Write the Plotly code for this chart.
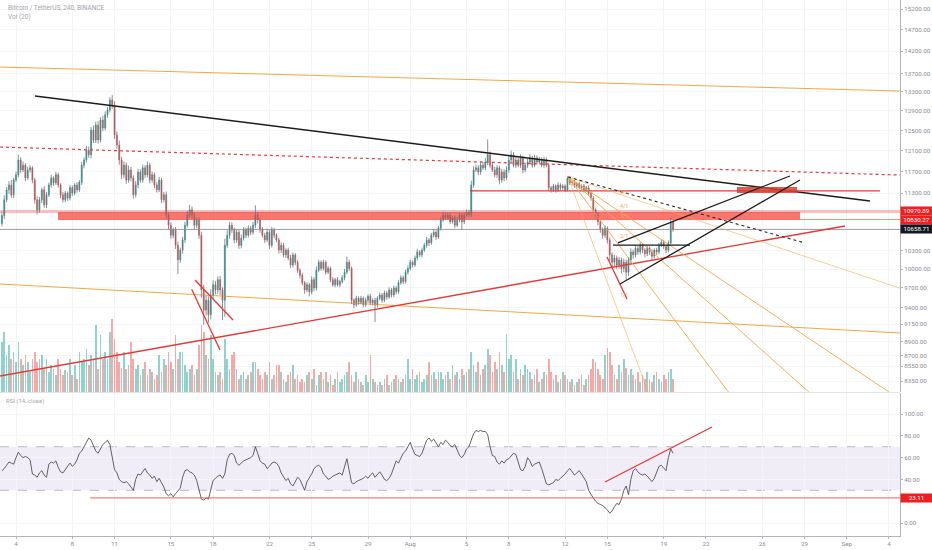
import math
import pandas as pd
import plotly.graph_objects as go

# ---------------- data ----------------
START = "2019-07-03 00:00"          # first 4h candle
first_open = 10760

closes = [
    10900, 11180, 11360, 11450, 11270, 11540, 11640, 11920, 11730, 11820,
    11580, 11730, 11770, 11540, 11180, 11000, 11180, 11360, 11090, 11270,
    11450, 11580, 11490, 11640, 11450, 11270, 11180, 11300, 11210, 11400,
    11300, 11450, 11360, 11500, 11820, 11920, 12110, 12020, 12510, 12310,
    12610, 12310, 12710, 12550, 12820, 12920, 13130, 13020, 12410, 12210,
    11920, 11640, 11820, 11540, 11730, 11580, 11270, 11450, 11690, 11540,
    11770, 11640, 11820, 11540, 11640, 11450, 11360, 11540, 11180, 11270,
    10910, 10730, 10560, 10650, 10390, 10150, 10310, 10480, 10730, 10910,
    11000, 10910, 10730, 10820, 10560, 9670, 9360, 9510, 9290, 9590,
    9750, 9670, 9830, 9670, 9510, 10390, 10560, 10730, 10650, 10480,
    10610, 10390, 10510, 10650, 10560, 10680, 10610, 10730, 10910, 10820,
    10650, 10560, 10480, 10610, 10390, 10650, 10560, 10480, 10310, 10390,
    10230, 10310, 10180, 10065, 10230, 10110, 9980, 9900, 9780, 9670,
    9750, 9640, 9830, 9700, 9980, 10110, 10010, 10110, 9950, 10010,
    9830, 9750, 9830, 9750, 9800, 9860, 9950, 10110, 10010, 9510,
    9440, 9540, 9480, 9540, 9440, 9510, 9570, 9470, 9510, 9440,
    9540, 9590, 9510, 9620, 9560, 9670, 9590, 9700, 9640, 9780,
    9860, 9800, 9950, 10010, 10110, 10065, 10180, 10280, 10230, 10310,
    10390, 10480, 10430, 10560, 10610, 10530, 10680, 10820, 10910, 10860,
    10910, 10790, 10860, 10730, 10820, 10910, 10790, 10910, 10960, 10910,
    11450, 11730, 11770, 11690, 11820, 11770, 11880, 12020, 11820, 11730,
    11640, 11770, 11540, 11690, 11580, 11730, 11920, 12020, 11820, 11920,
    11820, 11960, 11730, 11820, 11880, 11960, 11820, 11960, 11880, 11920,
    11820, 11920, 11820, 11400, 11360, 11430, 11360, 11450, 11400, 11430,
    11360, 11580, 11490, 11500, 11430, 11470, 11400, 11430, 11360, 11400,
    11300, 11210, 11000, 10910, 10790, 10650, 10560, 10680, 10480, 10230,
    10110, 10180, 10065, 10146, 10010, 10110, 9950, 10146, 10280, 10230,
    10340, 10280, 10390, 10310, 10250, 10340, 10280, 10210, 10310, 10280,
    10390, 10440, 10370, 10310, 10430, 10790, 10658.71,
]

wick_up = [
    60, 80, 50, 70, 90, 40, 60, 100, 50, 70,
    40, 60, 50, 30, 40, 60, 50, 40, 70, 50,
    40, 60, 30, 50, 40, 30, 50, 40, 30, 50,
    40, 30, 50, 40, 60, 50, 80, 70, 60, 90,
    70, 80, 60, 90, 70, 60, 60, 100, 80, 70,
    90, 60, 70, 50, 80, 60, 50, 70, 60, 50,
    60, 50, 70, 50, 60, 40, 50, 60, 40, 50,
    60, 40, 50, 40, 50, 60, 40, 50, 60, 70,
    90, 60, 50, 40, 50, 60, 80, 70, 60, 90,
    70, 60, 50, 60, 40, 110, 80, 60, 50, 40,
    50, 40, 60, 50, 40, 50, 40, 60, 170, 50,
    40, 50, 40, 60, 40, 50, 40, 30, 40, 50,
    40, 30, 40, 50, 40, 30, 40, 30, 40, 30,
    40, 30, 50, 40, 60, 40, 30, 40, 30, 40,
    30, 40, 30, 40, 30, 40, 50, 90, 40, 30,
    30, 40, 30, 40, 30, 40, 30, 40, 30, 40,
    30, 40, 30, 40, 30, 40, 30, 40, 30, 40,
    40, 30, 40, 50, 40, 30, 40, 50, 30, 40,
    40, 50, 30, 40, 50, 30, 40, 50, 60, 40,
    40, 50, 30, 40, 50, 40, 30, 40, 50, 40,
    80, 70, 60, 50, 70, 60, 80, 300, 60, 50,
    60, 50, 40, 60, 50, 70, 90, 80, 50, 60,
    50, 70, 40, 50, 60, 70, 40, 60, 50, 60,
    50, 60, 50, 40, 30, 40, 30, 50, 30, 40,
    30, 30, 40, 30, 40, 30, 40, 30, 40, 30,
    40, 30, 40, 30, 40, 30, 40, 50, 30, 40,
    40, 50, 40, 50, 40, 60, 40, 50, 60, 40,
    50, 40, 50, 40, 30, 40, 30, 40, 30, 40,
    40, 50, 40, 30, 40, 70, 40,
]

wick_dn = [
    50, 60, 40, 70, 50, 60, 40, 50, 60, 40,
    60, 40, 50, 60, 70, 80, 50, 60, 50, 60,
    40, 50, 60, 40, 50, 60, 50, 40, 50, 40,
    50, 40, 50, 40, 50, 60, 50, 60, 70, 60,
    60, 70, 50, 60, 50, 60, 50, 80, 80, 70,
    90, 80, 60, 70, 50, 60, 70, 50, 60, 50,
    50, 60, 50, 60, 50, 60, 50, 40, 60, 50,
    60, 70, 60, 50, 60, 230, 50, 60, 50, 40,
    50, 60, 70, 50, 60, 120, 220, 80, 120, 70,
    60, 70, 60, 80, 300, 250, 50, 60, 50, 60,
    50, 60, 50, 40, 50, 40, 50, 40, 50, 60,
    50, 40, 50, 40, 60, 40, 50, 40, 60, 50,
    40, 50, 40, 50, 40, 50, 40, 50, 40, 60,
    40, 70, 40, 50, 40, 30, 40, 30, 40, 30,
    40, 30, 40, 30, 40, 30, 40, 30, 40, 60,
    50, 30, 40, 30, 40, 30, 40, 30, 40, 260,
    40, 30, 40, 30, 40, 30, 40, 30, 40, 30,
    30, 40, 30, 40, 30, 40, 30, 40, 30, 40,
    30, 40, 50, 30, 40, 50, 30, 40, 30, 40,
    30, 40, 30, 50, 30, 40, 130, 40, 30, 40,
    40, 50, 40, 60, 50, 40, 50, 60, 50, 40,
    50, 60, 80, 50, 60, 40, 50, 60, 40, 50,
    40, 50, 60, 40, 50, 40, 50, 40, 50, 40,
    40, 50, 40, 60, 50, 40, 50, 40, 50, 40,
    40, 30, 40, 50, 30, 40, 30, 40, 50, 30,
    40, 50, 40, 50, 60, 50, 60, 50, 60, 100,
    80, 60, 70, 60, 80, 60, 120, 60, 50, 60,
    40, 50, 40, 50, 60, 40, 50, 60, 40, 50,
    40, 30, 40, 50, 40, 30, 40,
]

volume_k = [
    12.5, 15.0, 9.3, 11.8, 8.3, 10.0, 7.5, 12.5, 8.3, 6.8,
    9.3, 7.5, 5.0, 8.3, 10.0, 7.5, 8.3, 9.3, 5.8, 8.3,
    5.0, 6.8, 5.8, 4.3, 8.3, 5.8, 4.3, 5.5, 5.0, 8.3,
    4.3, 6.8, 3.3, 10.0, 7.5, 8.3, 10.8, 6.8, 9.3, 8.0,
    16.8, 5.8, 14.3, 8.3, 10.0, 8.3, 15.0, 18.3, 13.3, 10.0,
    7.5, 6.0, 10.0, 5.8, 6.8, 12.5, 8.3, 5.8, 6.8, 4.3,
    5.8, 7.5, 4.3, 5.8, 5.0, 3.3, 4.3, 9.3, 5.0, 8.3,
    6.8, 10.0, 7.5, 5.8, 14.3, 8.3, 10.0, 10.0, 6.8, 5.0,
    5.8, 6.8, 4.3, 5.8, 11.8, 16.8, 15.0, 9.3, 8.3, 14.3,
    8.3, 5.0, 4.3, 5.0, 3.3, 13.3, 8.3, 5.8, 9.3, 10.0,
    5.8, 3.3, 4.3, 5.0, 3.3, 4.3, 5.0, 7.5, 7.5, 5.8,
    4.3, 3.3, 5.0, 4.3, 7.5, 3.3, 4.3, 6.8, 6.8, 5.0,
    3.3, 2.5, 4.3, 5.0, 6.8, 3.3, 4.3, 2.5, 3.3, 2.5,
    4.3, 5.0, 3.3, 5.8, 1.8, 4.3, 5.0, 3.3, 5.0, 2.5,
    4.3, 1.8, 3.3, 5.0, 2.5, 3.3, 4.3, 5.0, 7.5, 4.3,
    2.5, 5.0, 3.3, 2.5, 1.8, 4.3, 2.5, 9.3, 3.3, 2.5,
    1.8, 2.5, 1.8, 3.3, 4.3, 1.8, 2.5, 3.3, 4.3, 3.3,
    2.5, 3.3, 4.3, 8.3, 3.3, 5.8, 3.3, 4.3, 5.0, 2.5,
    3.3, 4.3, 7.5, 4.3, 5.0, 3.3, 5.0, 5.0, 3.3, 4.3,
    5.0, 3.3, 6.8, 4.3, 5.0, 3.3, 5.8, 4.3, 5.0, 5.8,
    10.0, 6.8, 5.0, 7.5, 4.3, 5.8, 6.8, 10.8, 9.3, 5.0,
    7.5, 5.8, 10.0, 6.8, 5.0, 14.5, 8.3, 9.3, 5.0, 8.3,
    3.3, 5.8, 4.3, 6.8, 5.8, 5.0, 3.3, 4.3, 5.8, 2.5,
    3.3, 5.0, 4.3, 8.3, 5.0, 3.3, 4.3, 2.5, 3.3, 5.0,
    4.3, 3.3, 2.5, 3.3, 1.8, 2.5, 3.3, 4.3, 1.8, 3.3,
    4.3, 5.8, 8.3, 7.5, 5.8, 4.3, 3.3, 9.3, 11.0, 10.0,
    6.8, 4.3, 3.3, 6.8, 5.0, 8.3, 6.0, 4.3, 5.8, 4.3,
    3.3, 5.0, 2.5, 4.3, 3.3, 5.0, 3.3, 2.5, 4.3, 5.0,
    3.3, 2.5, 4.3, 3.3, 5.0, 5.8, 3.3,
]

rsi = [
    48, 50, 53, 56, 55, 54, 60, 65, 62, 60,
    61, 60, 58, 45, 44, 42, 46, 48, 44, 42,
    54, 56, 55, 57, 51, 47, 46, 49, 53, 55,
    52, 54, 58, 64, 66, 70, 74, 78, 76, 70,
    66, 64, 68, 72, 74, 76, 72, 62, 49, 46,
    40, 38, 37, 38, 36, 33, 30, 40, 45, 44,
    47, 50, 46, 44, 41, 43, 38, 41, 37, 33,
    27, 25, 27, 24, 27, 30, 32, 42, 48, 49,
    47, 46, 44, 39, 30, 22, 21, 23, 22, 32,
    39, 41, 43, 44, 41, 45, 58, 63, 64, 62,
    55, 53, 55, 57, 58, 59, 60, 62, 70, 64,
    57, 55, 54, 50, 52, 55, 56, 55, 52, 46,
    42, 39, 41, 36, 34, 38, 42, 40, 34, 30,
    38, 41, 45, 50, 52, 53, 51, 45, 43, 40,
    41, 43, 44, 45, 46, 44, 52, 59, 48, 37,
    36, 38, 39, 40, 41, 43, 41, 44, 46, 42,
    45, 47, 44, 40, 39, 41, 45, 52, 57, 55,
    60, 64, 66, 70, 74, 68, 63, 62, 61, 64,
    70, 76, 78, 75, 77, 73, 70, 74, 72, 76,
    74, 71, 70, 72, 67, 62, 60, 63, 68, 70,
    76, 82, 85, 84, 85, 84, 84, 81, 70, 62,
    61, 56, 54, 57, 55, 58, 59, 62, 64, 63,
    56, 49, 48, 52, 60, 57, 52, 54, 55, 56,
    50, 42, 36, 35, 36, 37, 40, 39, 41, 43,
    45, 48, 50, 47, 44, 46, 48, 45, 42, 38,
    30, 26, 23, 20, 18, 17, 16, 14, 12, 9,
    11, 15, 18, 17, 22, 30, 34, 26, 40, 48,
    50, 47, 45, 44, 45, 43, 40, 38, 41, 46,
    52, 53, 50, 48, 60, 68, 64,
]

# axis setup
X_RANGE = ["2019-07-02 20:44", "2019-09-04 18:48"]
PRICE_RANGE = [8204, 15422]
RSI_RANGE = [-11.9, 119.3]
VOL_RANGE = [0, 98]

price_ticks = [15200, 14700, 14200, 13700, 13300, 12900, 12500, 12100, 11700, 11300,
               10300, 10000, 9700, 9400, 9150, 8900, 8700, 8550, 8350]
rsi_ticks = [0, 40, 60, 80, 100]
date_ticks = ["2019-07-04", "2019-07-08", "2019-07-11", "2019-07-15", "2019-07-18",
              "2019-07-22", "2019-07-25", "2019-07-29", "2019-08-01", "2019-08-05",
              "2019-08-08", "2019-08-12", "2019-08-15", "2019-08-19", "2019-08-22",
              "2019-08-26", "2019-08-29", "2019-09-01", "2019-09-04"]
date_labels = ["4", "8", "11", "15", "18", "22", "25", "29", "Aug", "5", "8", "12",
               "15", "19", "22", "26", "29", "Sep", "4"]

# chart drawings (date, price) endpoints
orange_top_x = ["2019-07-02 20:44", "2019-09-04 18:48"]; orange_top_y = [13844, 13320]
orange_low_x = ["2019-07-02 20:44", "2019-09-04 18:48"]; orange_low_y = [9762, 9021]
black_trend_x = ["2019-07-05 08:24", "2019-09-02 15:36"]; black_trend_y = [13213, 11158]
red_dotted_x = ["2019-07-02 20:44", "2019-09-04 18:48"]; red_dotted_y = [12171, 11634]
red_trend_x = ["2019-07-02 20:44", "2019-08-31 21:00"]; red_trend_y = [8418, 10718]
red_level_x = ["2019-08-05 05:48", "2019-09-03 08:36"]; red_level_y = [11340, 11340]
chan_a_x = ["2019-07-16 17:06", "2019-07-19 09:54"]; chan_a_y = [9825, 9212]
chan_b_x = ["2019-07-16 11:30", "2019-07-18 11:42"]; chan_b_y = [9679, 8778]
red_short_x = ["2019-08-14 23:24", "2019-08-16 09:30"]; red_short_y = [10196, 9529]
tri_up_x = ["2019-08-15 18:06", "2019-08-27 23:12"]; tri_up_y = [10429, 11616]
tri_lo_x = ["2019-08-15 21:30", "2019-08-28 16:18"]; tri_lo_y = [9762, 11541]
tri_mid_x = ["2019-08-15 09:36", "2019-08-20 20:48"]; tri_mid_y = [10394, 10394]
dotted_x = ["2019-08-12 04:54", "2019-08-29 00:54"]; dotted_y = [11598, 10429]
zone_x = ["2019-07-06 23:33", "2019-08-28 16:18"]; zone_top = 10960; zone_bot = 10830.27
box_x = ["2019-08-24 04:54", "2019-08-28 11:12"]; box_top = 11412; box_bot = 11303
level_hi = 10970.89
level_lo = 10830.27
last_price = 10658.71

gann_pivot = ("2019-08-12 04:54", 11598)
gann_names = ["8/1", "4/1", "3/1", "2/1", "1/1"]
gann_end_x = ["2019-09-04 18:48", "2019-09-03 23:54", "2019-08-29 07:18",
              "2019-08-23 14:18", "2019-08-17 21:36"]
gann_end_y = [9696, 8204, 8204, 8204, 8204]
gann_label_x = "2019-08-15 18:06"
gann_label_y = [11326, 11060, 10886, 10546, 9591]

rsi_level = 23.11
rsi_level_x = ["2019-07-09 06:18", "2019-09-04 18:48"]
rsi_trend_x = ["2019-08-14 20:00", "2019-08-22 10:18"]; rsi_trend_y = [37.6, 88.1]

# ---------------- build ----------------
times = pd.date_range(START, periods=len(closes), freq="4h")
opens = [first_open] + closes[:-1]
highs = [max(o, c) + w for o, c, w in zip(opens, closes, wick_up)]
lows = [min(o, c) - w for o, c, w in zip(opens, closes, wick_dn)]
body_hi = [max(o, c) for o, c in zip(opens, closes)]
body_lo = [min(o, c) for o, c in zip(opens, closes)]

UP = "#26a69a"; DN = "#ef5350"
RED = "#e53935"; ORANGE = "#f5a742"

fig = go.Figure()

# volume (base axis y, drawn below)
vol_colors = ["rgba(38,166,154,0.5)" if c >= o else "rgba(239,83,80,0.5)"
              for o, c in zip(opens, closes)]
fig.add_trace(go.Bar(x=times, y=volume_k, marker=dict(color=vol_colors, line=dict(width=0)),
                     width=4 * 3600 * 1000 * 0.72, xaxis="x", yaxis="y", hoverinfo="skip"))


def pline(xs, ys, color, width=1.0, dash=None, opacity=1.0, yaxis="y3"):
    fig.add_trace(go.Scatter(x=xs, y=ys, mode="lines", xaxis="x", yaxis=yaxis,
                             line=dict(color=color, width=width, dash=dash),
                             opacity=opacity, hoverinfo="skip"))


def prect(xs, top, bot, fill, yaxis="y3"):
    fig.add_trace(go.Scatter(x=[xs[0], xs[1], xs[1], xs[0], xs[0]],
                             y=[top, top, bot, bot, top], mode="lines", fill="toself",
                             fillcolor=fill, line=dict(width=0), xaxis="x", yaxis=yaxis,
                             hoverinfo="skip"))


# background drawings
pline(orange_top_x, orange_top_y, ORANGE, 1.0)
pline(orange_low_x, orange_low_y, ORANGE, 1.0)
pline(X_RANGE, [level_hi, level_hi], "rgba(244,67,54,0.35)", 3)
pline([zone_x[0], X_RANGE[1]], [level_lo, level_lo], "rgba(244,67,54,0.6)", 1)
prect(zone_x, zone_top, zone_bot, "rgba(244,67,54,0.72)")
pline(X_RANGE, [last_price, last_price], "#9a9ca3", 1)
pline(red_dotted_x, red_dotted_y, RED, 1.2, "dot")

# candles: wicks + bodies
wx, wy = [], []
for t, lo, hi in zip(times, lows, highs):
    wx += [t, t, None]
    wy += [lo, hi, None]
fig.add_trace(go.Scatter(x=wx, y=wy, mode="lines", line=dict(color="#6f727c", width=0.8),
                         xaxis="x", yaxis="y3", hoverinfo="skip"))
fig.add_trace(go.Candlestick(x=times, open=opens, close=closes, high=body_hi, low=body_lo,
                             xaxis="x", yaxis="y3", whiskerwidth=0,
                             increasing=dict(fillcolor=UP, line=dict(color=UP, width=0.5)),
                             decreasing=dict(fillcolor=DN, line=dict(color=DN, width=0.5)),
                             hoverinfo="skip"))

# foreground drawings
pline(black_trend_x, black_trend_y, "#1c1c1c", 1.5)
pline(red_trend_x, red_trend_y, RED, 1.4)
pline(red_level_x, red_level_y, RED, 1.2)
pline(chan_a_x, chan_a_y, RED, 1.3)
pline(chan_b_x, chan_b_y, RED, 1.3)
pline(red_short_x, red_short_y, RED, 1.3)
prect(box_x, box_top, box_bot, "rgba(214,64,46,0.85)")
for name, ex, ey in zip(gann_names, gann_end_x, gann_end_y):
    op = 0.55 if name in ("8/1", "1/1") else 0.9
    pline([gann_pivot[0], ex], [gann_pivot[1], ey], ORANGE, 1.0, None, op)
pline(dotted_x, dotted_y, "#2a2a2a", 1.1, "dot")
pline(tri_up_x, tri_up_y, "#1c1c1c", 1.3)
pline(tri_lo_x, tri_lo_y, "#1c1c1c", 1.3)
pline(tri_mid_x, tri_mid_y, "#1c1c1c", 1.3)

# RSI pane
fig.add_trace(go.Scatter(x=times, y=rsi, mode="lines", line=dict(color="#3c3c3c", width=0.8),
                         xaxis="x", yaxis="y2", hoverinfo="skip"))
pline(rsi_level_x, [rsi_level, rsi_level], "rgba(239,83,80,0.75)", 1.2, yaxis="y2")
pline(rsi_trend_x, rsi_trend_y, RED, 1.3, yaxis="y2")

PANE_SPLIT_LO = 0.2668
PANE_SPLIT_HI = 0.2687
TICKFONT = dict(size=6.2, color="#8a8c93")

shapes = [
    dict(type="rect", xref="x domain", yref="y2", x0=0, x1=1, y0=30, y1=70,
         fillcolor="rgba(126,87,194,0.11)", line=dict(width=0), layer="below"),
    dict(type="line", xref="x domain", yref="y2", x0=0, x1=1, y0=70, y1=70,
         line=dict(color="#b9b9c6", width=1, dash="dash"), layer="below"),
    dict(type="line", xref="x domain", yref="y2", x0=0, x1=1, y0=30, y1=30,
         line=dict(color="#b9b9c6", width=1, dash="dash"), layer="below"),
    dict(type="line", xref="paper", yref="paper", x0=0, x1=1, y0=PANE_SPLIT_HI - 0.001,
         y1=PANE_SPLIT_HI - 0.001, line=dict(color="#e0e3eb", width=1)),
]


def tag(text, y, yref, bg):
    return dict(xref="paper", x=1.0, xanchor="left", yref=yref, y=y, yanchor="middle",
                text=text, showarrow=False, bgcolor=bg, width=31, height=8,
                font=dict(size=6.2, color="white"), borderpad=0, align="center")


annotations = [
    dict(xref="paper", yref="paper", x=0.007, y=0.985, xanchor="left", yanchor="middle",
         text="Bitcoin / TetherUS, 240, BINANCE", showarrow=False,
         font=dict(size=6.5, color="#a3a5ab")),
    dict(xref="paper", yref="paper", x=0.007, y=0.968, xanchor="left", yanchor="middle",
         text="Vol (20)", showarrow=False, font=dict(size=6.5, color="#a3a5ab")),
    dict(xref="paper", yref="paper", x=0.004, y=0.252, xanchor="left", yanchor="middle",
         text="RSI (14, close)", showarrow=False, font=dict(size=6, color="#a3a5ab")),
    tag(f"{level_hi:.2f}", math.log10(level_hi), "y3", "#f01e1e"),
    tag(f"{level_lo:.2f}", math.log10(level_lo), "y3", "#f01e1e"),
    tag(f"{last_price:.2f}", math.log10(last_price), "y3", "#131722"),
    tag(f"{rsi_level:.2f}", rsi_level, "y2", "#f01e1e"),
]
for name, gy in zip(gann_names, gann_label_y):
    annotations.append(dict(x=gann_label_x, y=math.log10(gy), xref="x", yref="y3",
                            text=name, showarrow=False, xanchor="left", yanchor="middle",
                            font=dict(size=5.5, color=ORANGE)))

fig.update_layout(
    width=932, height=550,
    margin=dict(l=0, r=32, t=0, b=14),
    paper_bgcolor="white", plot_bgcolor="white",
    showlegend=False, bargap=0,
    font=dict(family="Roboto, sans-serif"),
    xaxis=dict(type="date", range=X_RANGE, anchor="y2", tickvals=date_ticks,
               ticktext=date_labels, tickfont=TICKFONT, showgrid=True, gridcolor="#f3f4f6",
               showline=True, linecolor="#b2b5be", ticks="outside", ticklen=2,
               tickcolor="#b2b5be", zeroline=False, rangeslider=dict(visible=False)),
    yaxis=dict(domain=[PANE_SPLIT_HI, 1], range=VOL_RANGE, visible=False, fixedrange=True),
    yaxis3=dict(overlaying="y", anchor="x", side="right", type="log",
                range=[math.log10(PRICE_RANGE[0]), math.log10(PRICE_RANGE[1])],
                tickvals=price_ticks, ticktext=[f"{v:.2f}" for v in price_ticks],
                tickfont=TICKFONT, showgrid=True, gridcolor="#f5f6f8", showline=True,
                linecolor="#b2b5be", ticks="outside", ticklen=2, tickcolor="#b2b5be",
                zeroline=False, automargin=False),
    yaxis2=dict(domain=[0, PANE_SPLIT_LO], anchor="x", side="right", range=RSI_RANGE,
                tickvals=rsi_ticks, ticktext=[f"{v:.2f}" for v in rsi_ticks],
                tickfont=TICKFONT, showgrid=True, gridcolor="#f5f6f8", showline=True,
                linecolor="#b2b5be", ticks="outside", ticklen=2, tickcolor="#b2b5be",
                zeroline=False, automargin=False),
    shapes=shapes,
    annotations=annotations,
)

fig.write_html("out.html", config={"displayModeBar": False},
               post_script="document.body.style.margin='0';document.body.style.overflow='hidden';")
